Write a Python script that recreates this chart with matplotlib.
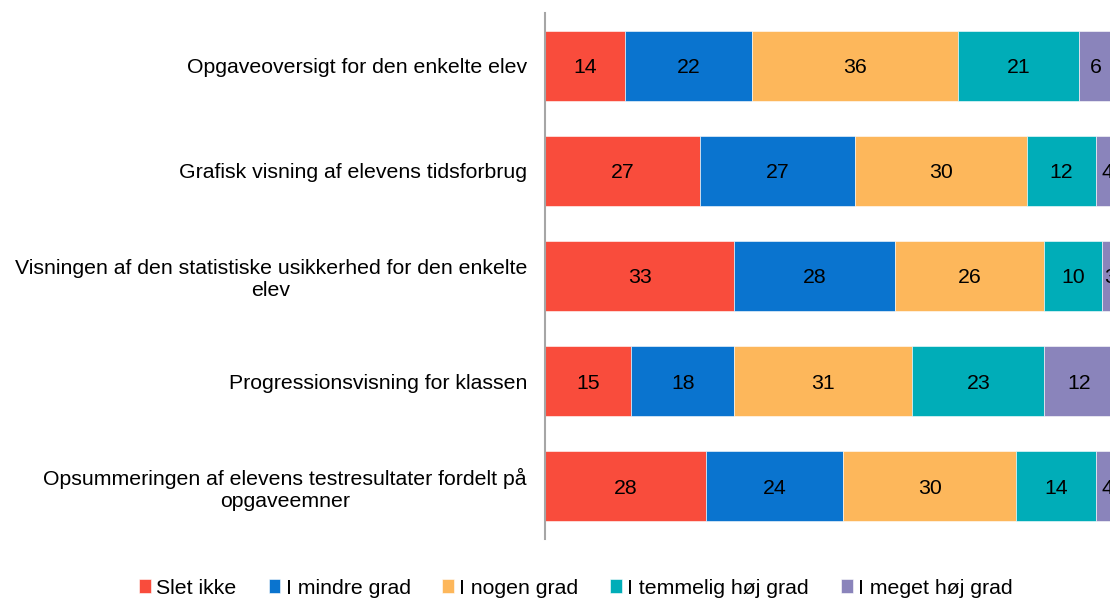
import matplotlib.pyplot as plt
import numpy as np

plt.rcParams["font.family"] = ["Liberation Sans", "DejaVu Sans"]

categories = [
    "Opgaveoversigt for den enkelte elev",
    "Grafisk visning af elevens tidsforbrug",
    "Visningen af den statistiske usikkerhed for den enkelte\nelev",
    "Progressionsvisning for klassen",
    "Opsummeringen af elevens testresultater fordelt på\nopgaveemner",
]
series_names = [
    "Slet ikke",
    "I mindre grad",
    "I nogen grad",
    "I temmelig høj grad",
    "I meget høj grad",
]
slet_ikke = [14, 27, 33, 15, 28]
mindre_grad = [22, 27, 28, 18, 24]
nogen_grad = [36, 30, 26, 31, 30]
temmelig_hoej = [21, 12, 10, 23, 14]
meget_hoej = [6, 4, 3, 12, 4]

colors = ["#F94C3C", "#0A74CF", "#FDB75B", "#00ADB8", "#8A84BB"]
series = [slet_ikke, mindre_grad, nogen_grad, temmelig_hoej, meget_hoej]

fs = 15.3

fig = plt.figure(figsize=(11.1, 5.99), dpi=100)
ax = fig.add_axes([545 / 1110, 1 - 539 / 599, 574 / 1110, 526 / 599])

y = np.arange(len(categories))
left = np.zeros(len(categories))
for name, vals, col in zip(series_names, series, colors):
    vals = np.array(vals, dtype=float)
    ax.barh(y, vals, left=left, height=0.665, color=col, label=name,
            edgecolor="white", linewidth=0.4)
    for yi, l, v in zip(y, left, vals):
        ax.text(l + v / 2, yi, f"{v:.0f}", ha="center", va="center_baseline",
                fontsize=fs, color="black")
    left += vals

ax.set_xlim(0, 100)
ax.set_ylim(len(categories) - 0.5, -0.5)
ax.set_yticks(y)
ax.set_yticklabels(categories, fontsize=fs)
ax.tick_params(axis="y", length=0, pad=13)
for lab in ax.get_yticklabels():
    lab.set_multialignment("center")
ax.set_xticks([])
for s in ["top", "right", "bottom"]:
    ax.spines[s].set_visible(False)
ax.spines["left"].set_color("#A6A6A6")
ax.spines["left"].set_linewidth(1.5)

handles, labels = ax.get_legend_handles_labels()
fig.legend(handles, labels, loc="center", bbox_to_anchor=(576 / 1110, 1 - 588 / 599),
           ncol=5, frameon=False, fontsize=fs, handlelength=0.55, handleheight=0.6,
           handletextpad=0.25, columnspacing=1.5)

fig.savefig("out.png", dpi=100)
